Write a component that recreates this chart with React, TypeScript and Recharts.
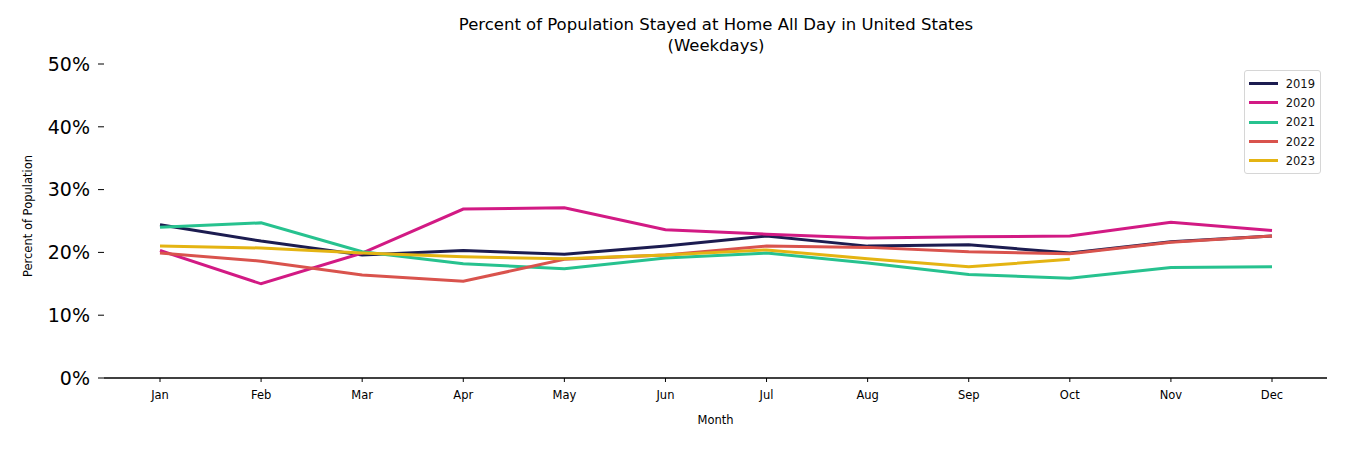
import React from 'react';
import { LineChart, Line, XAxis, YAxis } from 'recharts';

const months = ['Jan', 'Feb', 'Mar', 'Apr', 'May', 'Jun', 'Jul', 'Aug', 'Sep', 'Oct', 'Nov', 'Dec'];
const y2019 = [24.4, 21.8, 19.6, 20.3, 19.7, 21.0, 22.6, 21.0, 21.2, 19.9, 21.7, 22.6];
const y2020 = [20.3, 15.0, 19.9, 26.9, 27.1, 23.6, 22.9, 22.3, 22.5, 22.6, 24.8, 23.5];
const y2021 = [24.0, 24.7, 20.1, 18.2, 17.4, 19.1, 19.9, 18.3, 16.5, 15.9, 17.6, 17.7];
const y2022 = [19.9, 18.6, 16.4, 15.4, 18.9, 19.6, 21.0, 20.8, 20.1, 19.8, 21.6, 22.6];
const y2023 = [21.0, 20.7, 19.9, 19.3, 19.0, 19.6, 20.4, 19.0, 17.7, 18.9, null, null];
const yTicks = [0, 10, 20, 30, 40, 50];

const series = [
  { key: '2019', values: y2019, color: '#1c1c50' },
  { key: '2020', values: y2020, color: '#d21a84' },
  { key: '2021', values: y2021, color: '#27c28f' },
  { key: '2022', values: y2022, color: '#d9534d' },
  { key: '2023', values: y2023, color: '#e4b413' },
];

const data = months.map((m, i) => {
  const row: Record<string, any> = { month: m };
  series.forEach((s) => {
    row[s.key] = s.values[i];
  });
  return row;
});

const FONT = 'DejaVu Sans, sans-serif';

const LegendBox = () => (
  <div
    style={{
      position: 'absolute',
      left: 1244,
      top: 70,
      border: '1px solid #d6d6d6',
      borderRadius: 3,
      background: '#fff',
      padding: '3px 5px 3px 4px',
      fontFamily: FONT,
      fontSize: 11.5,
      width: 77,
      boxSizing: 'border-box',
    }}
  >
    {series.map((s) => (
      <div key={s.key} style={{ display: 'flex', alignItems: 'center', height: 19.3 }}>
        <span style={{ display: 'inline-block', width: 29, height: 3, background: s.color, marginRight: 8 }} />
        <span style={{ color: '#111' }}>{s.key}</span>
      </div>
    ))}
  </div>
);

const App: React.FC = () => {
  return (
    <div style={{ position: 'absolute', left: 0, top: 0, width: 1350, height: 450, background: '#fff', fontFamily: FONT }}>
      <div
        style={{
          position: 'absolute',
          left: 716,
          top: 14,
          transform: 'translateX(-50%)',
          textAlign: 'center',
          fontSize: 16.5,
          lineHeight: '21px',
          color: '#000',
          whiteSpace: 'nowrap',
        }}
      >
        Percent of Population Stayed at Home All Day in United States
        <br />
        (Weekdays)
      </div>
      <LineChart width={1350} height={450} data={data} margin={{ top: 64, right: 23, bottom: 0, left: 0 }}>
        <XAxis
          dataKey="month"
          padding={{ left: 56, right: 55 }}
          tick={{ fontSize: 11.5, fill: '#000', fontFamily: FONT }}
          tickLine={{ stroke: '#000' }}
          tickSize={4}
          tickMargin={9}
          axisLine={{ stroke: '#000', strokeWidth: 1.3 }}
          height={72}
          label={(props: any) => {
            const vb = props.viewBox;
            return (
              <text x={vb.x + vb.width / 2} y={424} textAnchor="middle" fontSize={11.5} fontFamily={FONT} fill="#000">
                Month
              </text>
            );
          }}
        />
        <YAxis
          domain={[0, 50]}
          ticks={yTicks}
          tickFormatter={(v: number) => `${v}%`}
          width={104}
          axisLine={false}
          tickLine={{ stroke: '#000' }}
          tickSize={6}
          tickMargin={8}
          tick={{ fontSize: 19, fill: '#000', fontFamily: FONT }}
          label={() => (
            <text
              x={32}
              y={216}
              textAnchor="middle"
              fontSize={11.5}
              fontFamily={FONT}
              fill="#000"
              transform="rotate(-90, 32, 216)"
            >
              Percent of Population
            </text>
          )}
        />
        {series.map((s) => (
          <Line
            key={s.key}
            dataKey={s.key}
            stroke={s.color}
            strokeWidth={3}
            dot={false}
            activeDot={false}
            type="linear"
            isAnimationActive={false}
          />
        ))}
      </LineChart>
      <LegendBox />
    </div>
  );
};

export default App;
